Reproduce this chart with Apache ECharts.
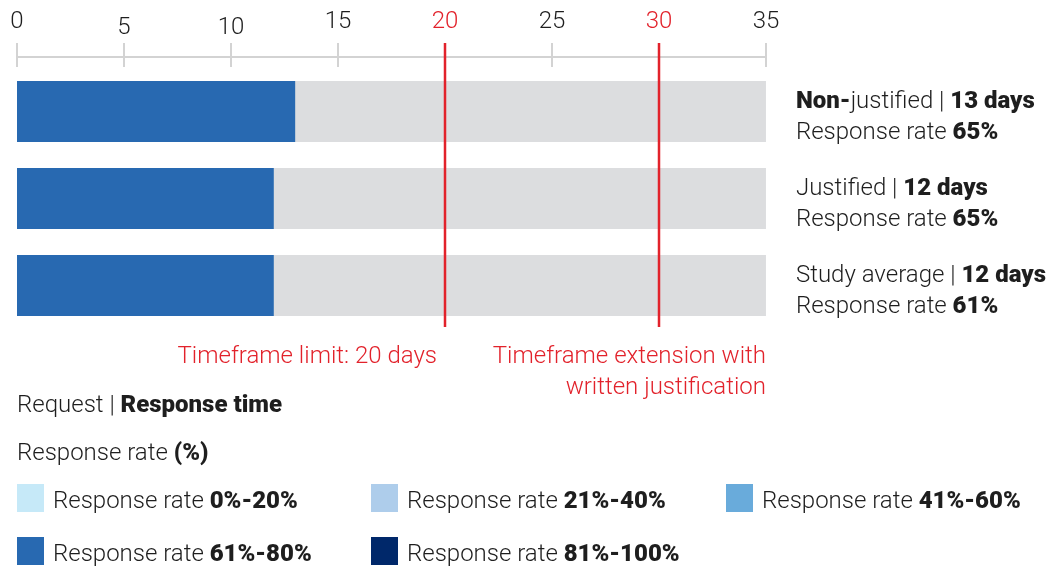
<!DOCTYPE html>
<html>
<head>
<meta charset="utf-8">
<script src="https://cdn.jsdelivr.net/npm/echarts@6/dist/echarts.min.js"></script>
<style>html,body{margin:0;padding:0;background:#fff}#c{width:1049px;height:568px}</style>
</head>
<body>
<div id="c"></div>
<script>
// ---- data ----
var categories = ['Non-justified', 'Justified', 'Study average'];
var days = [13, 12, 12];
var responseRates = [65, 65, 61];
var axisMax = 35;
var tickInterval = 5;
var limits = [20, 30];
var annotations = ['Timeframe limit: 20 days', 'Timeframe extension with\nwritten justification'];
var rateBins = ['0%-20%', '21%-40%', '41%-60%', '61%-80%', '81%-100%'];
var binUpper = [20, 40, 60, 80, 100];
var binColors = ['#c6e9f8', '#aecdeb', '#69abdb', '#2869b1', '#00286a'];
var titleTexts = ['Request | {b|Response time}', 'Response rate {b|(%)}'];

// ---- style ----
var FONT = 'Roboto';
var TXT = '#1e1e1e';
var RED = '#e2222b';
var FS = 24;
var BW = 900;

function binIndex(r) { for (var i = 0; i < binUpper.length; i++) if (r <= binUpper[i]) return i; return binUpper.length - 1; }

var chart = echarts.init(document.getElementById('c'));

var legendPos = [[17, 484], [371, 484], [726, 484], [17, 537], [371, 537]];
var legends = rateBins.map(function (b, i) {
  return {
    data: ['Response rate ' + b],
    left: legendPos[i][0], top: legendPos[i][1], padding: 0,
    icon: 'rect', itemWidth: 27, itemHeight: 28, selectedMode: false,
    formatter: function (name) { return name.replace(/^(Response rate )(.*)$/, '$1{b|$2}'); },
    textStyle: {
      fontFamily: FONT, fontSize: FS, fontWeight: 300, color: TXT, padding: [8, 0, 0, 4],
      rich: { b: { fontFamily: FONT, fontSize: FS, fontWeight: BW, color: TXT } }
    }
  };
});

var legendSeries = rateBins.map(function (b, i) {
  return {
    type: 'line', name: 'Response rate ' + b, xAxisIndex: 2, yAxisIndex: 2, data: [],
    itemStyle: { color: binColors[i] }, lineStyle: { color: binColors[i] }, silent: true
  };
});

var limitSeries = limits.map(function (l) {
  return {
    type: 'line', xAxisIndex: 2, yAxisIndex: 2, data: [[l, 0], [l, 1]], symbol: 'none',
    lineStyle: { color: RED, width: 2.5 }, z: 10, silent: true, animation: false
  };
});

var option = {
  animation: false,
  grid: [
    { left: 17, right: 283, top: 68, height: 261 },
    { left: 17, right: 283, top: 43, height: 24 },
    { left: 17, right: 283, top: 43, height: 284 }
  ],
  xAxis: [
    { gridIndex: 0, type: 'value', min: 0, max: axisMax, show: false },
    {
      gridIndex: 1, type: 'value', min: 0, max: axisMax, interval: tickInterval, position: 'top', offset: -10,
      axisLine: { show: true, lineStyle: { color: '#d3d3d3', width: 2 } },
      axisTick: { show: false },
      splitLine: { show: true, lineStyle: { color: '#d3d3d3', width: 2 } },
      axisLabel: {
        margin: 13,
        formatter: function (v) {
          var k = limits.indexOf(v) >= 0 ? 'r' : 'n';
          var low = (v === 5 || v === 10) ? 'L' : '';
          return '{' + k + low + '|' + v + '}';
        },
        rich: {
          n: { fontFamily: FONT, fontSize: 24, fontWeight: 300, color: TXT, padding: [0, 0, 6, 0] },
          nL: { fontFamily: FONT, fontSize: 24, fontWeight: 300, color: TXT },
          r: { fontFamily: FONT, fontSize: 24, fontWeight: 300, color: RED, padding: [0, 0, 6, 0] },
          rL: { fontFamily: FONT, fontSize: 24, fontWeight: 300, color: RED }
        }
      }
    },
    { gridIndex: 2, type: 'value', min: 0, max: axisMax, show: false }
  ],
  yAxis: [
    {
      gridIndex: 0, type: 'category', data: categories, inverse: true, position: 'right',
      axisLine: { show: false }, axisTick: { show: false },
      axisLabel: {
        margin: 30, padding: [12, 0, 0, 0],
        formatter: function (name, idx) {
          var n = name.indexOf('Non-') === 0 ? '{b|Non-}{t|' + name.slice(4) + '}' : '{t|' + name + '}';
          return n + '{t| | }{b|' + days[idx] + ' days}\n{t|Response rate }{b|' + responseRates[idx] + '%}';
        },
        rich: {
          t: { fontFamily: FONT, fontSize: FS, fontWeight: 300, color: TXT, lineHeight: 31 },
          b: { fontFamily: FONT, fontSize: FS, fontWeight: BW, color: TXT, lineHeight: 31 }
        }
      }
    },
    { gridIndex: 1, type: 'value', min: 0, max: 1, show: false },
    { gridIndex: 2, type: 'value', min: 0, max: 1, show: false }
  ],
  legend: legends,
  series: [
    {
      type: 'bar', xAxisIndex: 0, yAxisIndex: 0, barWidth: 61,
      showBackground: true, backgroundStyle: { color: '#dcdddf' },
      data: days.map(function (d, i) {
        return { value: d, itemStyle: { color: binColors[binIndex(responseRates[i])] } };
      }),
      silent: true
    }
  ].concat(limitSeries).concat(legendSeries),
  graphic: [
    { type: 'text', x: 437, y: 357, style: { text: annotations[0], align: 'right', verticalAlign: 'middle', fill: RED, font: '300 ' + FS + 'px ' + FONT } },
    { type: 'text', x: 766, y: 341, style: { text: annotations[1], align: 'right', verticalAlign: 'top', fill: RED, font: '300 ' + FS + 'px ' + FONT, lineHeight: 31 } },
    { type: 'text', x: 17, y: 406, style: { text: titleTexts[0], verticalAlign: 'middle', fill: TXT, font: '300 ' + FS + 'px ' + FONT,
        rich: { b: { fontFamily: FONT, fontSize: FS, fontWeight: BW, fill: TXT } } } },
    { type: 'text', x: 17, y: 454, style: { text: titleTexts[1], verticalAlign: 'middle', fill: TXT, font: '300 ' + FS + 'px ' + FONT,
        rich: { b: { fontFamily: FONT, fontSize: FS, fontWeight: BW, fill: TXT } } } }
  ]
};
chart.setOption(option);
</script>
</body>
</html>
